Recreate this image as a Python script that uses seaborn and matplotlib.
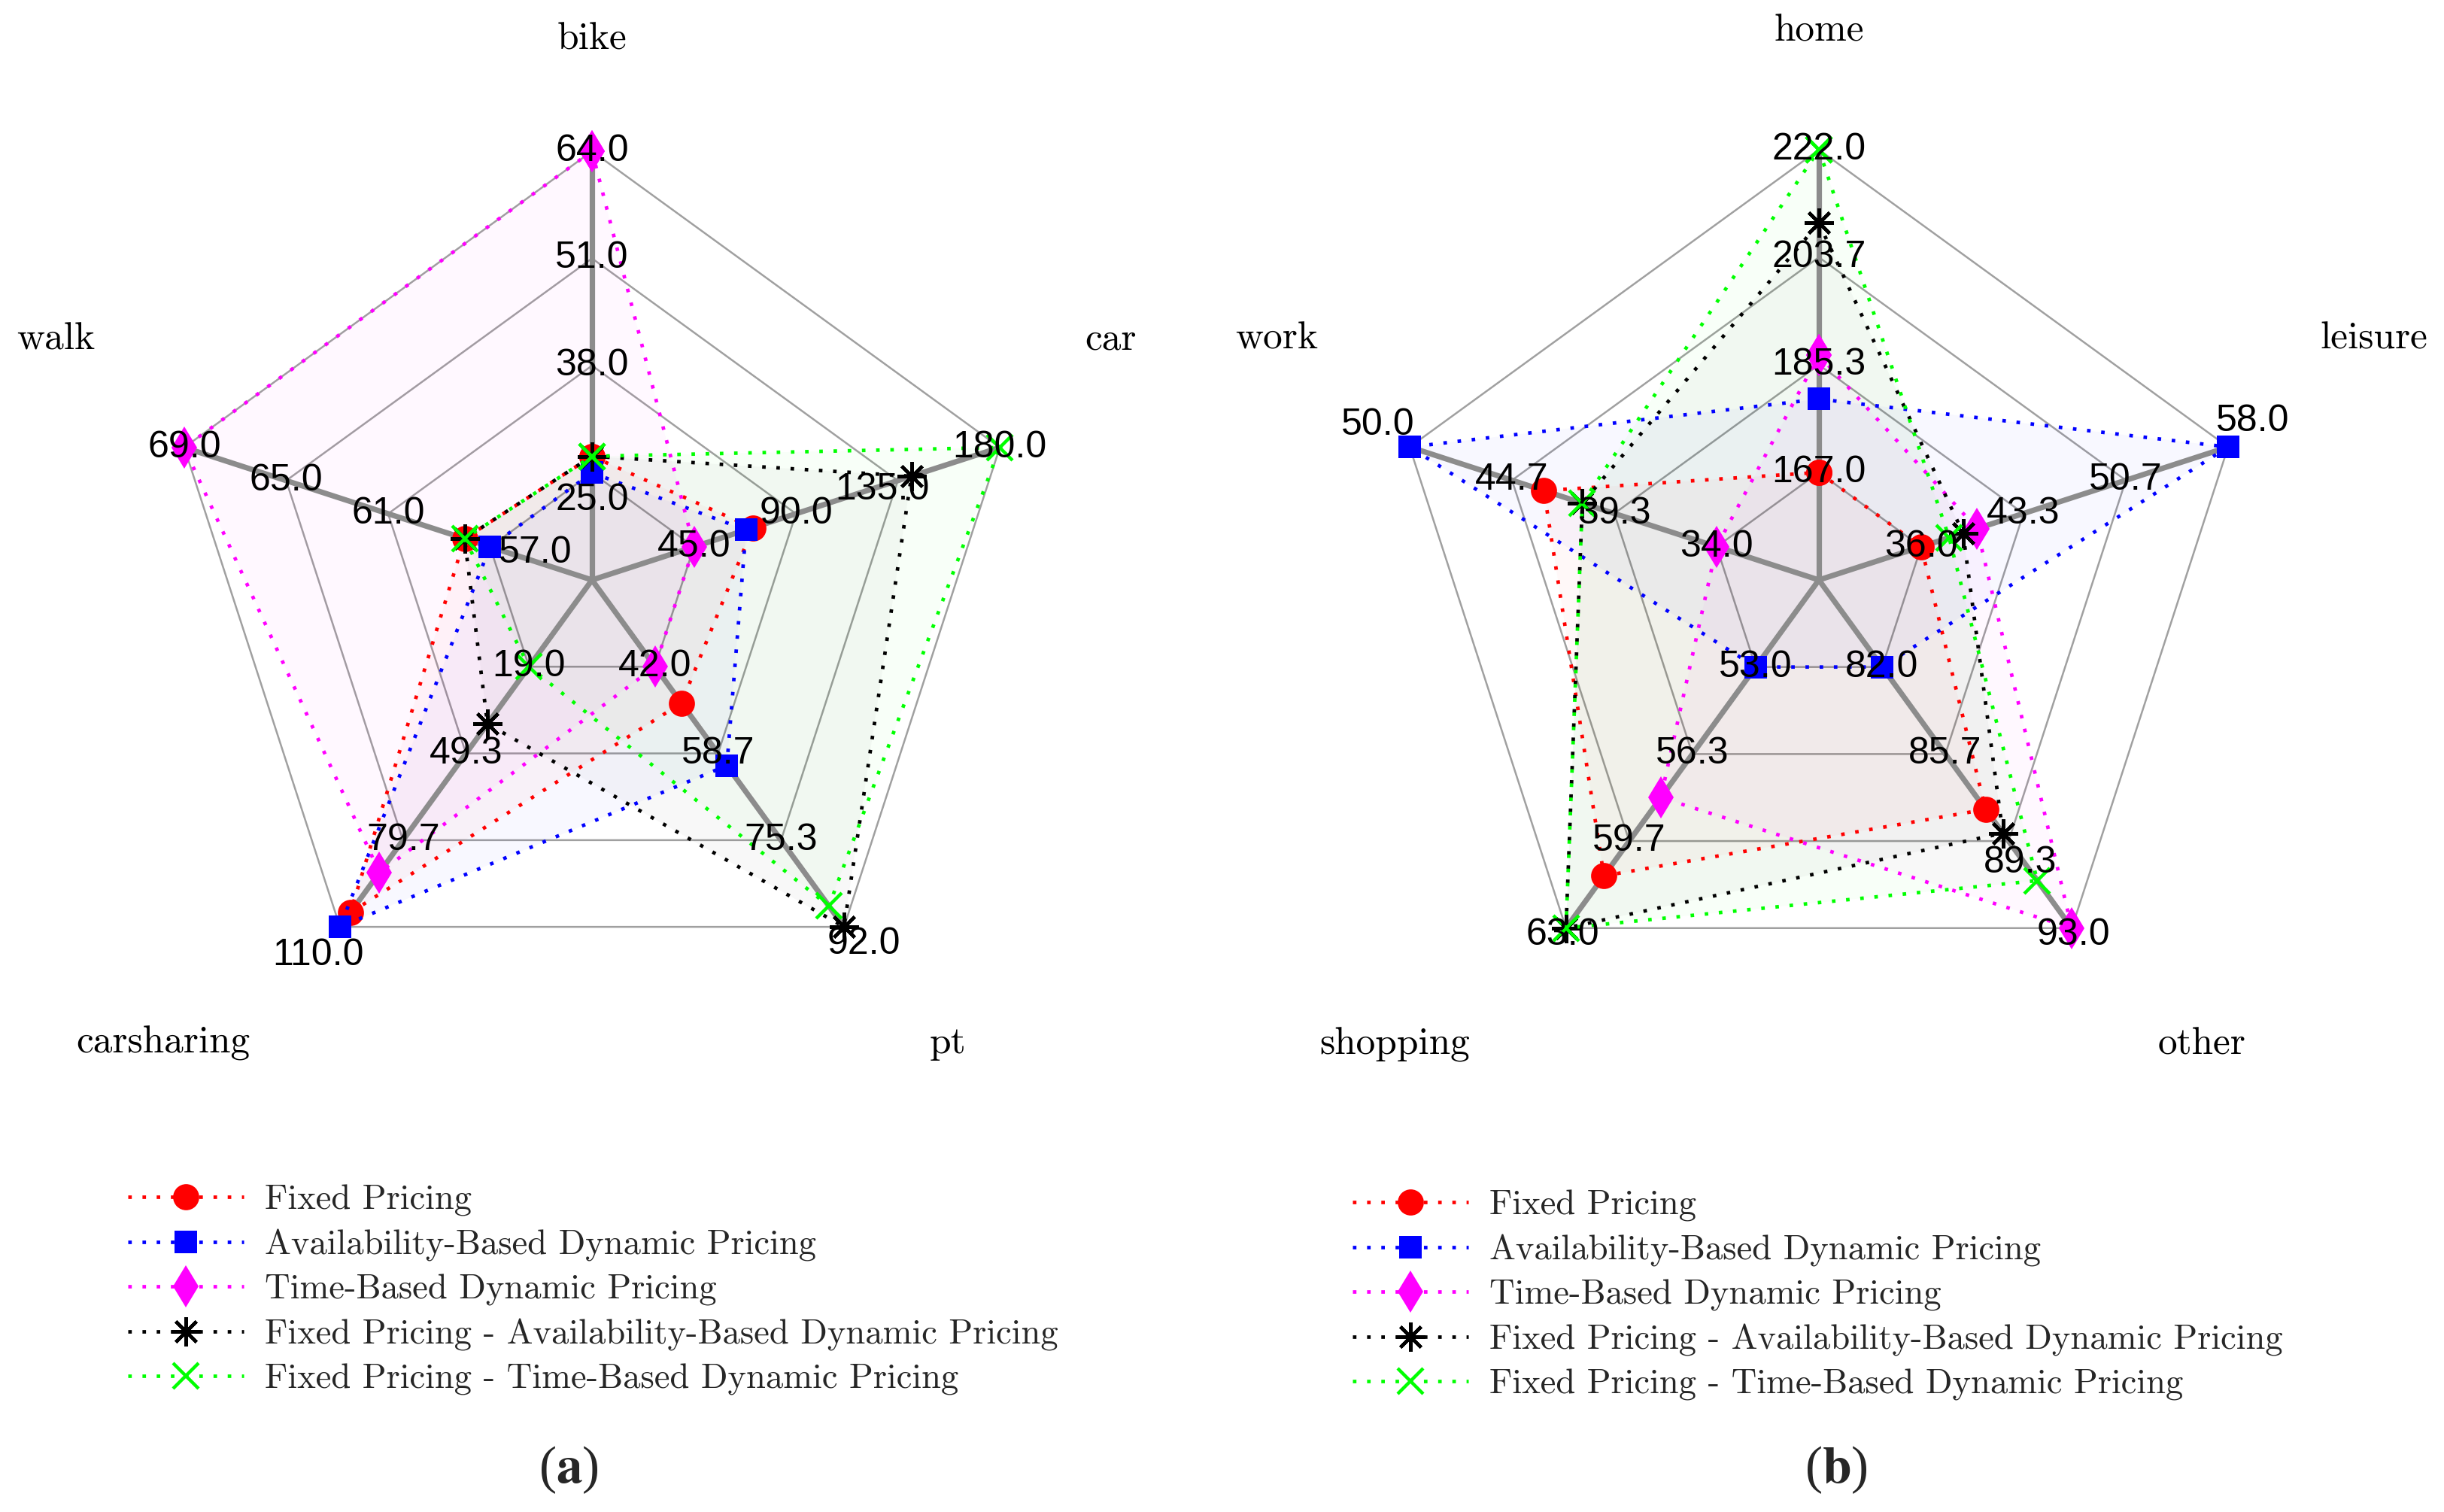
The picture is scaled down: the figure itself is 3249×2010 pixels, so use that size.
import numpy as np
import matplotlib.pyplot as plt
import seaborn as sns

# spoke names, clockwise from the top
mode_axes = ["bike", "car", "pt", "carsharing", "walk"]
purpose_axes = ["home", "leisure", "other", "shopping", "work"]

series_names = [
    "Fixed Pricing",
    "Availability-Based Dynamic Pricing",
    "Time-Based Dynamic Pricing",
    "Fixed Pricing - Availability-Based Dynamic Pricing",
    "Fixed Pricing - Time-Based Dynamic Pricing",
]

# (a) values per mode: bike, car, pt, carsharing, walk
mode_fixed = [27.0, 71.0, 49.0, 105.0, 58.0]
mode_avail = [25.0, 68.0, 61.0, 110.0, 57.0]
mode_time = [64.0, 45.0, 42.0, 91.0, 69.0]
mode_fixed_avail = [27.0, 141.0, 92.0, 39.0, 58.0]
mode_fixed_time = [27.0, 180.0, 88.0, 19.0, 58.0]

# (b) values per purpose: home, leisure, other, shopping, work
purpose_fixed = [167.0, 36.0, 88.0, 61.0, 43.0]
purpose_avail = [179.5, 58.0, 82.0, 53.0, 50.0]
purpose_time = [187.0, 40.0, 93.0, 58.0, 34.0]
purpose_fixed_avail = [209.5, 39.0, 89.0, 63.0, 41.0]
purpose_fixed_time = [222.0, 38.0, 91.0, 63.0, 41.0]

colors = ["#ff0000", "#0000ff", "#ff00ff", "#000000", "#00ff00"]
markers = ["o", "s", "d", (8, 2, 0), "x"]
msizes = [12.5, 11, 14.5, 14, 12]

sns.set_theme(style="white")
plt.rcParams["font.family"] = ["Liberation Sans", "DejaVu Sans"]
plt.rcParams["mathtext.fontset"] = "stix"

W, H = 3249, 2010
fig = plt.figure(figsize=(W / 200, H / 200), dpi=200)


def make_ax(cx, cy, R, L=1.45):
    # square axes in pixels, centre (cx, cy) measured from the top left
    side = 2 * L * R
    ax = fig.add_axes([(cx - L * R) / W, (H - cy - L * R) / H, side / W, side / H])
    ax.set_xlim(-L, L)
    ax.set_ylim(-L, L)
    ax.axis("off")
    return ax


def draw_spider(ax, R, axis_names, data, label_pos, nudges):
    vals = np.array(data)
    n = len(axis_names)
    ang = np.pi / 2 - np.arange(n) * 2 * np.pi / n
    lo = vals.min(axis=0)
    hi = vals.max(axis=0)

    # web
    for r in [0.25, 0.5, 0.75, 1.0]:
        xs = np.append(r * np.cos(ang), r * np.cos(ang[0]))
        ys = np.append(r * np.sin(ang), r * np.sin(ang[0]))
        ax.plot(xs, ys, color="#a0a0a0", lw=0.9, zorder=1)
    for a in ang:
        ax.plot([0, np.cos(a)], [0, np.sin(a)], color="#8c8c8c", lw=2.6, zorder=2)

    # series
    for i, name in enumerate(series_names):
        r = 0.25 + 0.75 * (vals[i] - lo) / (hi - lo)
        xs = r * np.cos(ang)
        ys = r * np.sin(ang)
        ax.fill(xs, ys, color=colors[i], alpha=0.028, lw=0, zorder=1.5)
        sns.lineplot(
            x=np.append(xs, xs[0]),
            y=np.append(ys, ys[0]),
            sort=False,
            estimator=None,
            ax=ax,
            color=colors[i],
            dashes=(1, 3),
            lw=1.7,
            marker=markers[i],
            markersize=msizes[i],
            markeredgewidth=1.6 if i >= 3 else 0,
            markeredgecolor=colors[i],
            label=name,
            legend=False,
            zorder=3,
        )

    # tick labels on every spoke (a few moved off the markers, in pixels)
    for j in range(n):
        for k in range(4):
            r = 0.25 * (k + 1)
            v = lo[j] + k * (hi[j] - lo[j]) / 3
            dx, dy = nudges.get((j, k), (0, 0))
            ax.text(r * np.cos(ang[j]) + dx / R, r * np.sin(ang[j]) - dy / R,
                    f"{v:.1f}", ha="center", va="center", fontsize=18,
                    color="black", zorder=5)

    for name, (x, y) in zip(axis_names, label_pos):
        ax.text(x, y, name, ha="center", va="center", fontsize=18.5,
                family="cmr10", color="black")


ax_a = make_ax(787, 771, 570)
draw_spider(ax_a, 570, mode_axes,
            [mode_fixed, mode_avail, mode_time, mode_fixed_avail, mode_fixed_time],
            [(0, 1.26), (1.21, 0.56), (0.83, -1.08), (-1.0, -1.08), (-1.25, 0.56)],
            {(0, 0): (0, 37), (4, 0): (60, 8), (1, 2): (-21, 12),
             (3, 3): (-29, 38), (2, 3): (26, 23)})

ax_b = make_ax(2418, 771, 572)
draw_spider(ax_b, 572, purpose_axes,
            [purpose_fixed, purpose_avail, purpose_time, purpose_fixed_avail, purpose_fixed_time],
            [(0, 1.275), (1.29, 0.56), (0.89, -1.08), (-0.985, -1.08), (-1.26, 0.56)],
            {(4, 3): (-42, -29), (1, 3): (33, -34), (2, 2): (15, 29),
             (3, 3): (-4, 9), (2, 3): (2, 9)})

for ax, x0, y0 in [(ax_a, 170, 1575), (ax_b, 1798, 1582)]:
    h, l = ax.get_legend_handles_labels()
    ax.legend(h[:5], l[:5], loc="upper left", bbox_to_anchor=(x0 / W, 1 - y0 / H),
              bbox_transform=fig.transFigure, frameon=False, borderpad=0,
              borderaxespad=0, handlelength=3.3, handletextpad=0.6,
              labelspacing=0.36, prop={"family": "cmr10", "size": 16.8})

fig.text(756 / W, 1 - 1954 / H, r"($\mathbf{a}$)", ha="center", va="center",
         fontsize=25, family="Liberation Serif")
fig.text(2441 / W, 1 - 1954 / H, r"($\mathbf{b}$)", ha="center", va="center",
         fontsize=25, family="Liberation Serif")

fig.savefig("out.png", dpi=200, facecolor="white")
